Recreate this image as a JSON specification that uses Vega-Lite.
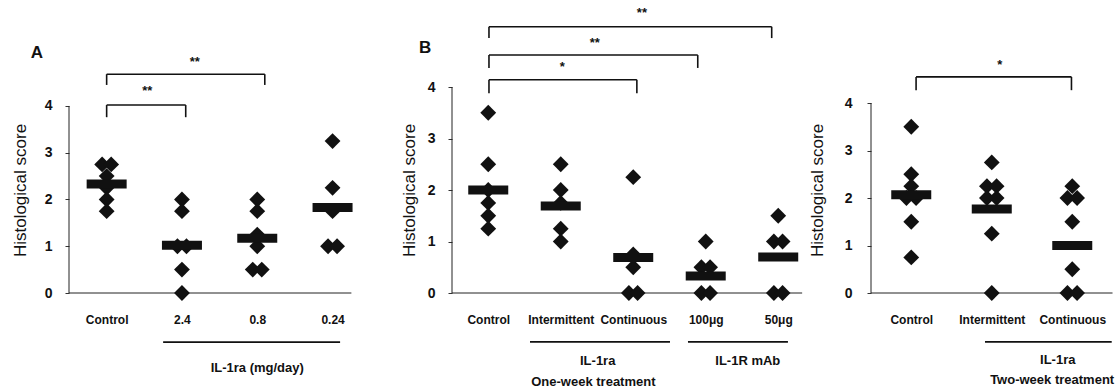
{
  "$schema": "https://vega.github.io/schema/vega-lite/v6.json",
  "autosize": {"type": "pad"},
  "padding": {"left": 11, "top": 6, "right": 0, "bottom": 0},
  "bounds": "flush",
  "spacing": 40,
  "background": "white",
  "config": {
    "view": {"stroke": null},
    "font": "Liberation Sans",
    "axis": {"labelColor": "#111", "titleColor": "#111", "labelFont": "Liberation Sans", "titleFont": "Liberation Sans"}
  },
  "datasets": {
    "A": [
      {"kind": "pt", "x": 0.94, "y": 2.75}, {"kind": "pt", "x": 1.06, "y": 2.75}, {"kind": "pt", "x": 1, "y": 2.5}, {"kind": "pt", "x": 1, "y": 2.25}, {"kind": "pt", "x": 1, "y": 2.0}, {"kind": "pt", "x": 1, "y": 1.75},
      {"kind": "pt", "x": 2, "y": 2.0}, {"kind": "pt", "x": 2, "y": 1.75}, {"kind": "pt", "x": 1.94, "y": 1.0}, {"kind": "pt", "x": 2.06, "y": 1.0}, {"kind": "pt", "x": 2, "y": 0.5}, {"kind": "pt", "x": 2, "y": 0},
      {"kind": "pt", "x": 3, "y": 2.0}, {"kind": "pt", "x": 3, "y": 1.75}, {"kind": "pt", "x": 3, "y": 1.25}, {"kind": "pt", "x": 3, "y": 1.0}, {"kind": "pt", "x": 2.94, "y": 0.5}, {"kind": "pt", "x": 3.06, "y": 0.5},
      {"kind": "pt", "x": 4, "y": 3.25}, {"kind": "pt", "x": 4, "y": 2.25}, {"kind": "pt", "x": 4, "y": 1.75}, {"kind": "pt", "x": 3.94, "y": 1.0}, {"kind": "pt", "x": 4.06, "y": 1.0},
      {"kind": "mean", "x": 1, "y": 2.33}, {"kind": "mean", "x": 2, "y": 1.02}, {"kind": "mean", "x": 3, "y": 1.17}, {"kind": "mean", "x": 4, "y": 1.83},
      {"kind": "br_h", "x": 1.0, "x2": 2.05, "y": 4.02}, {"kind": "br_h", "x": 1.0, "x2": 3.1, "y": 4.68},
      {"kind": "br_v", "x": 1.0, "y": 4.02, "y2": 3.76}, {"kind": "br_v", "x": 2.05, "y": 4.02, "y2": 3.76},
      {"kind": "br_v", "x": 1.0, "y": 4.68, "y2": 4.45}, {"kind": "br_v", "x": 3.1, "y": 4.68, "y2": 4.45},
      {"kind": "star", "x": 1.54, "y": 4.32, "label": "**"}, {"kind": "star", "x": 2.17, "y": 4.94, "label": "**"},
      {"kind": "letter", "x": 0.075, "y": 5.13, "label": "A"},
      {"kind": "ul", "x": 1.75, "x2": 4.1, "y": -1.05},
      {"kind": "grp", "x": 3.0, "y": -1.6, "label": "IL-1ra (mg/day)"},
      {"kind": "ax_h", "x": 0.5, "x2": 4.25, "y": 0},
      {"kind": "ax_v", "x": 0.5, "y": 0, "y2": 4}
    ],
    "B": [
      {"kind": "pt", "x": 1, "y": 3.5}, {"kind": "pt", "x": 1, "y": 2.5}, {"kind": "pt", "x": 1, "y": 2.0}, {"kind": "pt", "x": 1, "y": 1.75}, {"kind": "pt", "x": 1, "y": 1.5}, {"kind": "pt", "x": 1, "y": 1.25},
      {"kind": "pt", "x": 2, "y": 2.5}, {"kind": "pt", "x": 2, "y": 2.0}, {"kind": "pt", "x": 2, "y": 1.75}, {"kind": "pt", "x": 2, "y": 1.25}, {"kind": "pt", "x": 2, "y": 1.0},
      {"kind": "pt", "x": 3, "y": 2.25}, {"kind": "pt", "x": 3, "y": 0.75}, {"kind": "pt", "x": 3, "y": 0.5}, {"kind": "pt", "x": 2.94, "y": 0}, {"kind": "pt", "x": 3.06, "y": 0},
      {"kind": "pt", "x": 4, "y": 1.0}, {"kind": "pt", "x": 3.94, "y": 0.5}, {"kind": "pt", "x": 4.06, "y": 0.5}, {"kind": "pt", "x": 3.94, "y": 0}, {"kind": "pt", "x": 4.06, "y": 0},
      {"kind": "pt", "x": 5, "y": 1.5}, {"kind": "pt", "x": 4.94, "y": 1.0}, {"kind": "pt", "x": 5.06, "y": 1.0}, {"kind": "pt", "x": 4.94, "y": 0}, {"kind": "pt", "x": 5.06, "y": 0},
      {"kind": "mean", "x": 1, "y": 2.0}, {"kind": "mean", "x": 2, "y": 1.69}, {"kind": "mean", "x": 3, "y": 0.69}, {"kind": "mean", "x": 4, "y": 0.33}, {"kind": "mean", "x": 5, "y": 0.7},
      {"kind": "br_h", "x": 1.01, "x2": 3.05, "y": 4.14}, {"kind": "br_h", "x": 1.01, "x2": 3.89, "y": 4.62}, {"kind": "br_h", "x": 1.01, "x2": 4.91, "y": 5.17},
      {"kind": "br_v", "x": 1.01, "y": 4.14, "y2": 3.88}, {"kind": "br_v", "x": 3.05, "y": 4.14, "y2": 3.88},
      {"kind": "br_v", "x": 1.01, "y": 4.62, "y2": 4.37}, {"kind": "br_v", "x": 3.89, "y": 4.62, "y2": 4.37},
      {"kind": "br_v", "x": 1.01, "y": 5.17, "y2": 4.95}, {"kind": "br_v", "x": 4.91, "y": 5.17, "y2": 4.95},
      {"kind": "star", "x": 2.02, "y": 4.39, "label": "*"}, {"kind": "star", "x": 2.47, "y": 4.85, "label": "**"}, {"kind": "star", "x": 3.12, "y": 5.44, "label": "**"},
      {"kind": "letter", "x": 0.128, "y": 4.76, "label": "B"},
      {"kind": "ul", "x": 1.576, "x2": 3.507, "y": -0.95}, {"kind": "ul", "x": 3.755, "x2": 5.134, "y": -0.95},
      {"kind": "grp", "x": 2.51, "y": -1.33, "label": "IL-1ra"}, {"kind": "grp", "x": 2.45, "y": -1.72, "label": "One-week treatment"}, {"kind": "grp", "x": 4.58, "y": -1.33, "label": "IL-1R mAb"},
      {"kind": "ax_h", "x": 0.5, "x2": 5.33, "y": 0},
      {"kind": "ax_v", "x": 0.5, "y": 0, "y2": 4}
    ],
    "C": [
      {"kind": "pt", "x": 1, "y": 3.5}, {"kind": "pt", "x": 1, "y": 2.5}, {"kind": "pt", "x": 1, "y": 2.25}, {"kind": "pt", "x": 0.94, "y": 2.0}, {"kind": "pt", "x": 1.06, "y": 2.0}, {"kind": "pt", "x": 1, "y": 1.5}, {"kind": "pt", "x": 1, "y": 0.75},
      {"kind": "pt", "x": 2, "y": 2.75}, {"kind": "pt", "x": 1.94, "y": 2.25}, {"kind": "pt", "x": 2.06, "y": 2.25}, {"kind": "pt", "x": 1.94, "y": 2.0}, {"kind": "pt", "x": 2.06, "y": 2.0}, {"kind": "pt", "x": 2, "y": 1.25}, {"kind": "pt", "x": 2, "y": 0},
      {"kind": "pt", "x": 3, "y": 2.25}, {"kind": "pt", "x": 2.94, "y": 2.0}, {"kind": "pt", "x": 3.06, "y": 2.0}, {"kind": "pt", "x": 3, "y": 1.5}, {"kind": "pt", "x": 3, "y": 0.5}, {"kind": "pt", "x": 2.94, "y": 0}, {"kind": "pt", "x": 3.06, "y": 0},
      {"kind": "mean", "x": 1, "y": 2.07}, {"kind": "mean", "x": 2, "y": 1.77}, {"kind": "mean", "x": 3, "y": 1.0},
      {"kind": "br_h", "x": 1.06, "x2": 2.99, "y": 4.55},
      {"kind": "br_v", "x": 1.06, "y": 4.55, "y2": 4.27}, {"kind": "br_v", "x": 2.99, "y": 4.55, "y2": 4.27},
      {"kind": "star", "x": 2.1, "y": 4.8, "label": "*"},
      {"kind": "ul", "x": 1.916, "x2": 3.49, "y": -1.03},
      {"kind": "grp", "x": 2.82, "y": -1.42, "label": "IL-1ra"}, {"kind": "grp", "x": 2.75, "y": -1.83, "label": "Two-week treatment"},
      {"kind": "ax_h", "x": 0.5, "x2": 3.5, "y": 0},
      {"kind": "ax_v", "x": 0.5, "y": 0, "y2": 4}
    ]
  },
  "hconcat": [
    {
      "width": 343, "height": 206,
      "data": {"name": "A"},
      "encoding": {
        "x": {"field": "x", "type": "quantitative", "scale": {"domain": [0.5, 5.055], "nice": false, "zero": false},
              "axis": {"values": [1, 2, 3, 4], "labelExpr": "['', 'Control', '2.4', '0.8', '0.24'][datum.value]", "domain": false, "ticks": false, "grid": false, "title": null, "labelPadding": 21, "labelFontSize": 12, "labelFontWeight": "bold", "labelOverlap": false, "labelFlush": false, "labelBound": false}},
        "y": {"field": "y", "type": "quantitative", "scale": {"domain": [0, 4.406], "nice": false, "zero": false},
              "axis": {"values": [0, 1, 2, 3, 4], "domain": false, "grid": false, "tickSize": 4, "tickColor": "#333", "labelPadding": 13, "labelFontSize": 14, "labelFontWeight": "bold", "title": "Histological score", "titleFontSize": 17, "titleFontWeight": "normal", "titlePadding": 15}}
      },
      "layer": [
        {"transform": [{"filter": "datum.kind === 'ax_h'"}], "mark": {"type": "rule", "color": "#222", "strokeWidth": 1}, "encoding": {"x2": {"field": "x2"}}},
        {"transform": [{"filter": "datum.kind === 'ax_v'"}], "mark": {"type": "rule", "color": "#222", "strokeWidth": 1}, "encoding": {"y2": {"field": "y2"}}},
        {"transform": [{"filter": "datum.kind === 'br_h' || datum.kind === 'ul'"}], "mark": {"type": "rule", "color": "#111", "strokeWidth": 1.6}, "encoding": {"x2": {"field": "x2"}}},
        {"transform": [{"filter": "datum.kind === 'br_v'"}], "mark": {"type": "rule", "color": "#111", "strokeWidth": 1.6}, "encoding": {"y2": {"field": "y2"}}},
        {"transform": [{"filter": "datum.kind === 'pt'"}], "mark": {"type": "point", "shape": "diamond", "filled": true, "size": 250, "color": "#111", "opacity": 1}},
        {"transform": [{"filter": "datum.kind === 'mean'"}], "mark": {"type": "tick", "orient": "horizontal", "size": 40, "thickness": 9, "color": "#111", "opacity": 1}},
        {"transform": [{"filter": "datum.kind === 'star'"}], "mark": {"type": "text", "fontSize": 13, "fontWeight": "bold", "color": "#111", "baseline": "middle"}, "encoding": {"text": {"field": "label"}}},
        {"transform": [{"filter": "datum.kind === 'letter'"}], "mark": {"type": "text", "fontSize": 17, "fontWeight": "bold", "color": "#111", "baseline": "middle"}, "encoding": {"text": {"field": "label"}}},
        {"transform": [{"filter": "datum.kind === 'grp'"}], "mark": {"type": "text", "fontSize": 13, "fontWeight": "bold", "color": "#111", "baseline": "middle"}, "encoding": {"text": {"field": "label"}}}
      ]
    },
    {
      "width": 379, "height": 206,
      "data": {"name": "B"},
      "encoding": {
        "x": {"field": "x", "type": "quantitative", "scale": {"domain": [0.5, 5.728], "nice": false, "zero": false},
              "axis": {"values": [1, 2, 3, 4, 5], "labelExpr": "['', 'Control', 'Intermittent', 'Continuous', '100μg', '50μg'][datum.value]", "domain": false, "ticks": false, "grid": false, "title": null, "labelPadding": 21, "labelFontSize": 12, "labelFontWeight": "bold", "labelOverlap": false, "labelFlush": false, "labelBound": false}},
        "y": {"field": "y", "type": "quantitative", "scale": {"domain": [0, 4], "nice": false, "zero": false},
              "axis": {"values": [0, 1, 2, 3, 4], "domain": false, "grid": false, "tickSize": 4, "tickColor": "#333", "labelPadding": 13, "labelFontSize": 14, "labelFontWeight": "bold", "title": "Histological score", "titleFontSize": 17, "titleFontWeight": "normal", "titlePadding": 9}}
      },
      "layer": [
        {"transform": [{"filter": "datum.kind === 'ax_h'"}], "mark": {"type": "rule", "color": "#222", "strokeWidth": 1}, "encoding": {"x2": {"field": "x2"}}},
        {"transform": [{"filter": "datum.kind === 'ax_v'"}], "mark": {"type": "rule", "color": "#222", "strokeWidth": 1}, "encoding": {"y2": {"field": "y2"}}},
        {"transform": [{"filter": "datum.kind === 'br_h' || datum.kind === 'ul'"}], "mark": {"type": "rule", "color": "#111", "strokeWidth": 1.6}, "encoding": {"x2": {"field": "x2"}}},
        {"transform": [{"filter": "datum.kind === 'br_v'"}], "mark": {"type": "rule", "color": "#111", "strokeWidth": 1.6}, "encoding": {"y2": {"field": "y2"}}},
        {"transform": [{"filter": "datum.kind === 'pt'"}], "mark": {"type": "point", "shape": "diamond", "filled": true, "size": 250, "color": "#111", "opacity": 1}},
        {"transform": [{"filter": "datum.kind === 'mean'"}], "mark": {"type": "tick", "orient": "horizontal", "size": 40, "thickness": 9, "color": "#111", "opacity": 1}},
        {"transform": [{"filter": "datum.kind === 'star'"}], "mark": {"type": "text", "fontSize": 13, "fontWeight": "bold", "color": "#111", "baseline": "middle"}, "encoding": {"text": {"field": "label"}}},
        {"transform": [{"filter": "datum.kind === 'letter'"}], "mark": {"type": "text", "fontSize": 17, "fontWeight": "bold", "color": "#111", "baseline": "middle"}, "encoding": {"text": {"field": "label"}}},
        {"transform": [{"filter": "datum.kind === 'grp'"}], "mark": {"type": "text", "fontSize": 13, "fontWeight": "bold", "color": "#111", "baseline": "middle"}, "encoding": {"text": {"field": "label"}}}
      ]
    },
    {
      "width": 242, "height": 206,
      "data": {"name": "C"},
      "encoding": {
        "x": {"field": "x", "type": "quantitative", "scale": {"domain": [0.5, 3.506], "nice": false, "zero": false},
              "axis": {"values": [1, 2, 3], "labelExpr": "['', 'Control', 'Intermittent', 'Continuous'][datum.value]", "domain": false, "ticks": false, "grid": false, "title": null, "labelPadding": 21, "labelFontSize": 12, "labelFontWeight": "bold", "labelOverlap": false, "labelFlush": false, "labelBound": false}},
        "y": {"field": "y", "type": "quantitative", "scale": {"domain": [0, 4.337], "nice": false, "zero": false},
              "axis": {"values": [0, 1, 2, 3, 4], "domain": false, "grid": false, "tickSize": 4, "tickColor": "#333", "labelPadding": 15, "labelFontSize": 14, "labelFontWeight": "bold", "title": "Histological score", "titleFontSize": 17, "titleFontWeight": "normal", "titlePadding": 18}}
      },
      "layer": [
        {"transform": [{"filter": "datum.kind === 'ax_h'"}], "mark": {"type": "rule", "color": "#222", "strokeWidth": 1}, "encoding": {"x2": {"field": "x2"}}},
        {"transform": [{"filter": "datum.kind === 'ax_v'"}], "mark": {"type": "rule", "color": "#222", "strokeWidth": 1}, "encoding": {"y2": {"field": "y2"}}},
        {"transform": [{"filter": "datum.kind === 'br_h' || datum.kind === 'ul'"}], "mark": {"type": "rule", "color": "#111", "strokeWidth": 1.6}, "encoding": {"x2": {"field": "x2"}}},
        {"transform": [{"filter": "datum.kind === 'br_v'"}], "mark": {"type": "rule", "color": "#111", "strokeWidth": 1.6}, "encoding": {"y2": {"field": "y2"}}},
        {"transform": [{"filter": "datum.kind === 'pt'"}], "mark": {"type": "point", "shape": "diamond", "filled": true, "size": 250, "color": "#111", "opacity": 1}},
        {"transform": [{"filter": "datum.kind === 'mean'"}], "mark": {"type": "tick", "orient": "horizontal", "size": 40, "thickness": 9, "color": "#111", "opacity": 1}},
        {"transform": [{"filter": "datum.kind === 'star'"}], "mark": {"type": "text", "fontSize": 13, "fontWeight": "bold", "color": "#111", "baseline": "middle"}, "encoding": {"text": {"field": "label"}}},
        {"transform": [{"filter": "datum.kind === 'grp'"}], "mark": {"type": "text", "fontSize": 13, "fontWeight": "bold", "color": "#111", "baseline": "middle"}, "encoding": {"text": {"field": "label"}}}
      ]
    }
  ]
}
